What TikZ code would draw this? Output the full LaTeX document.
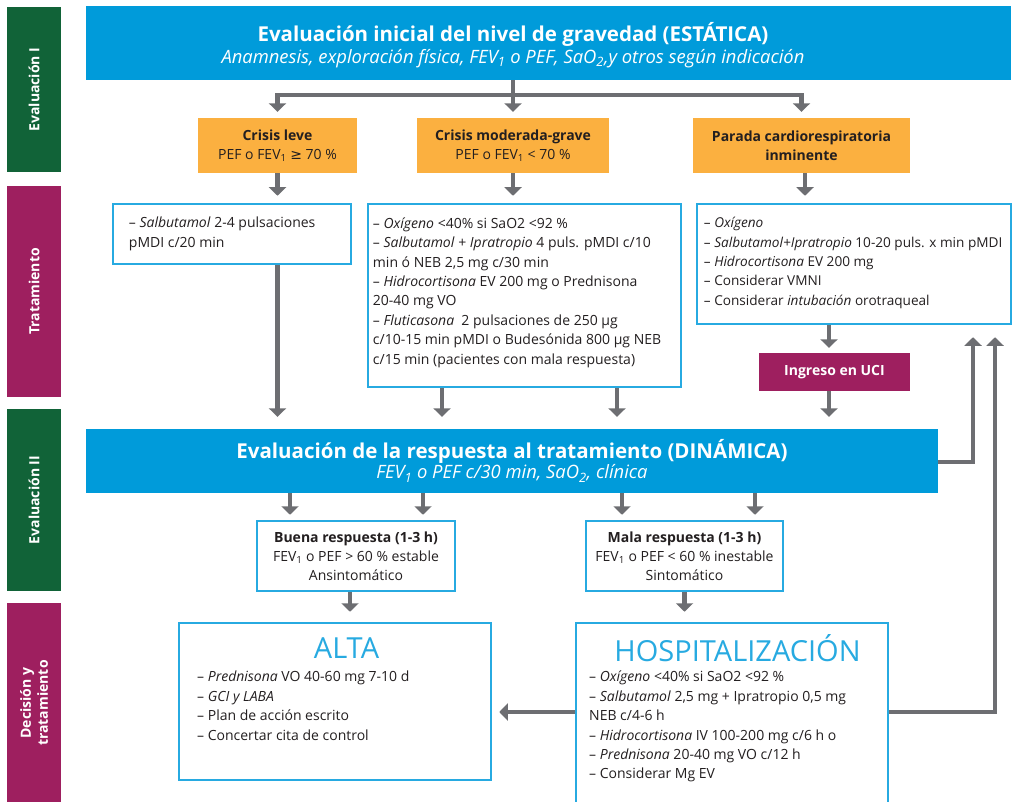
\documentclass[tikz,border=0pt]{standalone}
\usepackage{fontspec}
\setmainfont{Open Sans}
\newfontfamily\dv{DejaVu Sans}
\usetikzlibrary{arrows.meta,calc}
\definecolor{topblue}{RGB}{0,155,218}
\definecolor{evgreen}{RGB}{17,99,56}
\definecolor{trpurple}{RGB}{158,31,95}
\definecolor{crorange}{RGB}{251,176,64}
\definecolor{arrgray}{RGB}{109,110,114}
\definecolor{bordblue}{RGB}{39,170,225}
\definecolor{txtc}{RGB}{35,31,32}
\newcommand\sbs[1]{\textsubscript{#1}}
\tikzset{
  side/.style={rotate=90,inner sep=0pt,text=white,font=\fontsize{14}{17}\selectfont\bfseries,align=center},
  bluehead/.style={fill=topblue,inner sep=0pt},
  crisis/.style={fill=crorange,inner sep=0pt,align=center,text=txtc,font=\fontsize{14}{19}\selectfont},
  tbox/.style={draw=bordblue,line width=2.5pt,fill=white,inner sep=0pt},
  tlist/.style={anchor=west,align=left,inner sep=0pt,text=txtc,font=\fontsize{14}{19.4}\selectfont},
  resp/.style={draw=bordblue,line width=2.5pt,fill=white,inner sep=0pt,align=center,text=txtc,font=\fontsize{14}{19}\selectfont},
  bigtitle/.style={inner sep=0pt,text=bordblue,font=\fontsize{29}{32}\selectfont},
  conn/.style={draw=arrgray,line width=4.5pt},
  arr/.style={conn,-{Triangle[width=17pt,length=8.5pt]}},
}
\begin{document}
\begin{tikzpicture}[x=1pt,y=-1pt]
\useasboundingbox (0,0) rectangle (1012,802);
% side bars
\node[side,fill=evgreen,minimum width=165pt,minimum height=54pt] (s1) at (34,89.5) {Evaluación I};
\node[side,fill=trpurple,minimum width=211pt,minimum height=54pt] (s2) at (34,291.5) {Tratamiento};
\node[side,fill=evgreen,minimum width=182pt,minimum height=54pt] (s3) at (34,500) {Evaluación II};
\node[side,fill=trpurple,minimum width=200pt,minimum height=54pt] (s4) at (34,703) {Decisión y\\tratamiento};

% top box
\node[bluehead,minimum width=925pt,minimum height=74pt] (ev1) at (548.5,43) {};
\node[inner sep=0pt,text=white,align=center] (ev1t) at (513,45) {{\fontsize{20.5}{24}\selectfont\bfseries Evaluación inicial del nivel de gravedad (ESTÁTICA)}\\[2pt]{\fontsize{18.4}{21}\selectfont\itshape Anamnesis, exploración física, FEV\sbs{1} o PEF, SaO\sbs{2},y otros según indicación}};

% crisis boxes
\node[crisis,minimum width=159pt,minimum height=55pt] (cl) at (277.5,145.5) {\textbf{Crisis leve}\\PEF o FEV\sbs{1} {\dv ≥} 70 \%};
\node[crisis,minimum width=192pt,minimum height=55pt] (cm) at (513,145.5) {\textbf{Crisis moderada-grave}\\PEF o FEV\sbs{1} < 70 \%};
\node[crisis,minimum width=217pt,minimum height=55pt] (pc) at (801.5,145.5) {\textbf{Parada cardiorespiratoria}\\\textbf{inminente}};

\coordinate (j1) at (513,95);
\draw[conn] (ev1.south -| j1) -- (j1);
\draw[arr,shorten >=6pt] (j1) -| (cl.north);
\draw[arr,shorten >=6pt] (j1) -- (cm.north);
\draw[arr,shorten >=6pt] (j1) -| (pc.north);

% treatment boxes
\node[tbox,minimum width=238pt,minimum height=60pt] (b1) at (232,234) {};
\node[tlist] (b1t) at ($(b1.west)+(17,0)$) {– \textit{Salbutamol} 2-4 pulsaciones\\pMDI c/20 min};
\node[tbox,minimum width=313pt,minimum height=183pt] (b2) at (524.5,295.5) {};
\node[tlist] (b2t) at ($(b2.west)+(6,-3)$) {– \textit{Oxígeno} <40\% si SaO2 <92 \%\\
– \textit{Salbutamol} + \textit{Ipratropio} 4 puls. pMDI c/10\\
min ó NEB 2,5 mg c/30 min\\
– \textit{Hidrocortisona} EV 200 mg o Prednisona\\
20-40 mg VO\\
– \textit{Fluticasona}\ \ 2 pulsaciones de 250 µg\\
c/10-15 min pMDI o Budesónida 800 µg NEB\\
c/15 min (pacientes con mala respuesta)};
\node[tbox,minimum width=314pt,minimum height=120pt] (b3) at (854,264) {};
\node[tlist,font=\fontsize{13.6}{19.4}\selectfont] (b3t) at ($(b3.west)+(8,-1)$) {– \textit{Oxígeno}\\
– \textit{Salbutamol+Ipratropio} 10-20 puls. x min pMDI\\
– \textit{Hidrocortisona} EV 200 mg\\
– Considerar VMNI\\
– Considerar \textit{intubación} orotraqueal};

\draw[arr,shorten >=7pt] (cl.south) -- (cl.south |- b1.north);
\draw[arr,shorten >=7pt] (cm.south) -- (cm.south |- b2.north);
\draw[arr,shorten >=7pt] ([xshift=3.5pt]pc.south) -- ([xshift=3.5pt]pc.south |- b3.north);

% UCI
\node[fill=trpurple,inner sep=0pt,minimum width=151pt,minimum height=38pt,text=white,font=\fontsize{14}{17}\selectfont\bfseries] (uci) at (834.5,372) {Ingreso en UCI};
\draw[arr,shorten >=5pt] ([xshift=-5.5pt]uci.north |- b3.south) -- ([xshift=-5.5pt]uci.north);

% evaluation II
\node[bluehead,minimum width=852pt,minimum height=64pt,text=white,align=center] (ev2) at (512,461) {{\fontsize{20.5}{24}\selectfont\bfseries Evaluación de la respuesta al tratamiento (DINÁMICA)}\\[0pt]{\fontsize{18.4}{21}\selectfont\itshape FEV\sbs{1} o PEF c/30 min, SaO\sbs{2}, clínica}};

\draw[arr,shorten >=12pt] (cl.south |- b1.south) -- (cl.south |- ev2.north);
\draw[arr,shorten >=12pt] ([xshift=-82.5pt]b2.south) -- ([xshift=-82.5pt]b2.south |- ev2.north);
\draw[arr,shorten >=12pt] ([xshift=92.5pt]b2.south) -- ([xshift=92.5pt]b2.south |- ev2.north);
\draw[arr,shorten >=12pt] ([xshift=-5.5pt]uci.south) -- ([xshift=-5.5pt]uci.south |- ev2.north);

% responses
\node[resp,minimum width=198pt,minimum height=70pt] (br) at (356,556) {\textbf{Buena respuesta (1-3 h)}\\FEV\sbs{1} o PEF > 60 \% estable\\Ansintomático};
\node[resp,minimum width=197pt,minimum height=70pt] (mr) at (684.5,556) {\textbf{Mala respuesta (1-3 h)}\\FEV\sbs{1} o PEF < 60 \% inestable\\Sintomático};

\draw[arr,shorten >=5pt] ([xshift=-66pt]br.north |- ev2.south) -- ([xshift=-66pt]br.north);
\draw[arr,shorten >=5pt] ([xshift=67pt]br.north |- ev2.south) -- ([xshift=67pt]br.north);
\draw[arr,shorten >=5pt] ([xshift=-62.5pt]mr.north |- ev2.south) -- ([xshift=-62.5pt]mr.north);
\draw[arr,shorten >=5pt] ([xshift=70.5pt]mr.north |- ev2.south) -- ([xshift=70.5pt]mr.north);

% final boxes
\node[tbox,minimum width=312pt,minimum height=157pt] (alta) at (335,701.5) {};
\node[bigtitle] (altat) at (346.5,648) {ALTA};
\node[tlist,anchor=north west] (altal) at (197,671) {– \textit{Prednisona} VO 40-60 mg 7-10 d\\
– \textit{GCI y LABA}\\
– Plan de acción escrito\\
– Concertar cita de control};
\node[tbox,minimum width=312pt,minimum height=182pt] (hosp) at (732,714) {};
\node[bigtitle] (hospt) at (737.5,648) {HOSPITALIZACIÓN};
\node[tlist,anchor=north west] (hospl) at (589,671) {– \textit{Oxígeno} <40\% si SaO2 <92 \%\\
– \textit{Salbutamol} 2,5 mg + Ipratropio 0,5 mg\\
NEB c/4-6 h\\
– \textit{Hidrocortisona} IV 100-200 mg c/6 h o\\
– \textit{Prednisona} 20-40 mg VO c/12 h\\
– Considerar Mg EV};

\draw[arr,shorten >=10pt] ([xshift=-6pt]br.south) -- ([xshift=-6pt]br.south |- alta.north);
\draw[arr,shorten >=10pt] (mr.south) -- (mr.south |- hosp.north);

% feedback and side arrows
\coordinate (r1) at (973,0);
\coordinate (r2) at (995,0);
\draw[arr,shorten >=12pt] ([yshift=-1pt]ev2.east) -| (r1 |- b3.south);
\draw[arr,shorten >=12pt] (hosp.east |- 0,712) -| (r2 |- b3.south);
\draw[arr,shorten >=7pt] (hosp.west |- 0,712) -- (alta.east |- 0,712);
\end{tikzpicture}
\end{document}
